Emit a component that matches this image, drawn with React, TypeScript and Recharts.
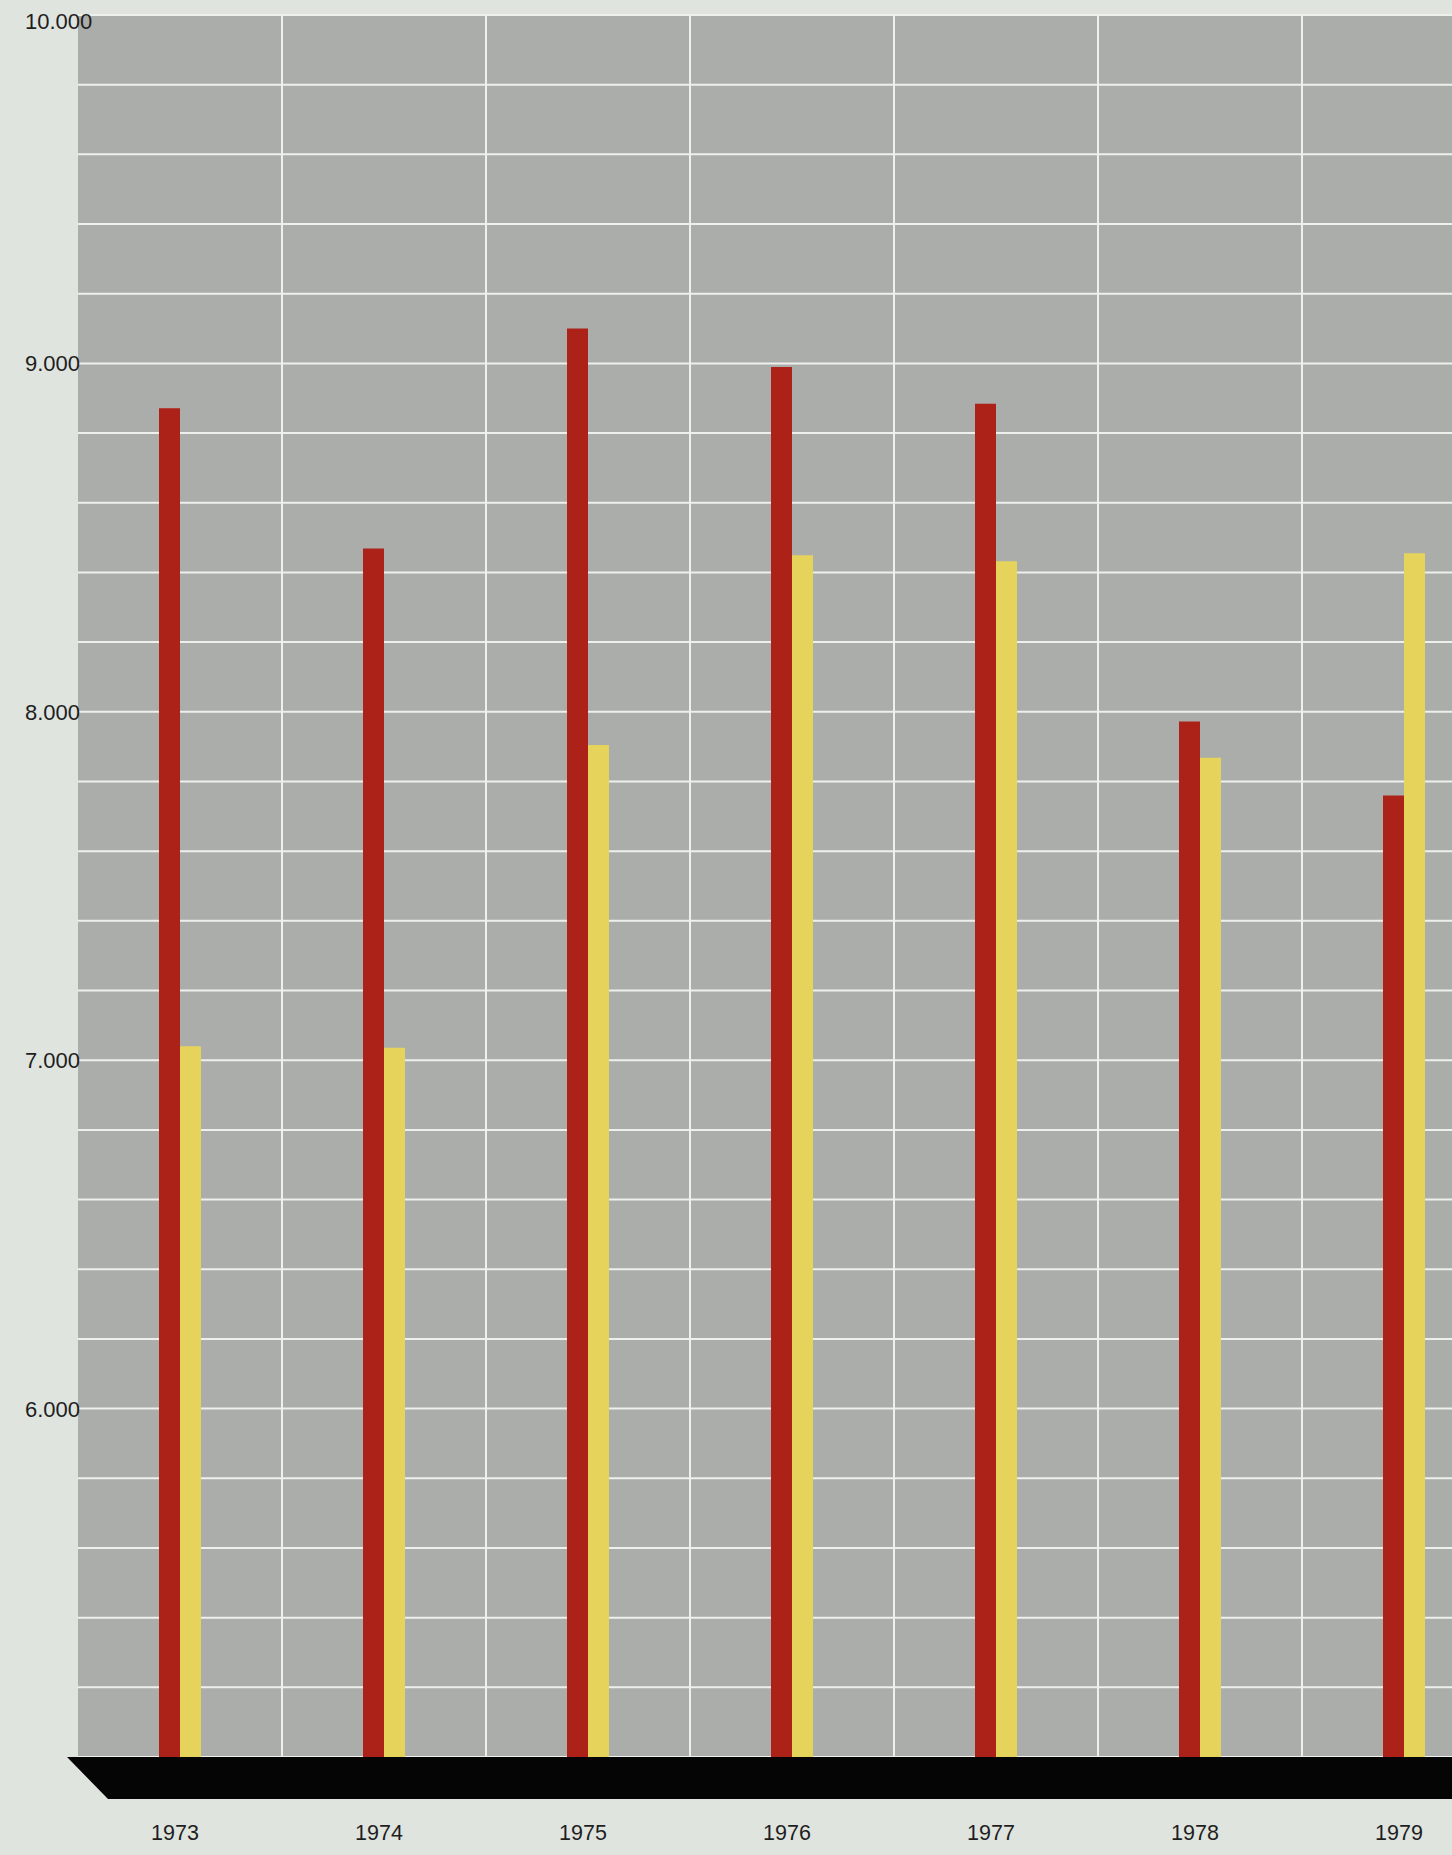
import React from 'react';
import * as R from 'recharts';
import { BarChart, Bar, XAxis, YAxis, CartesianGrid } from 'recharts';

const years = ['1973', '1974', '1975', '1976', '1977', '1978', '1979'];
const redSeries = [8871, 8469, 9100, 8990, 8884, 7972, 7760];
const yellowSeries = [7040, 7036, 7905, 8449, 8432, 7868, 8455];
const yTicks = [5000, 5200, 5400, 5600, 5800, 6000, 6200, 6400, 6600, 6800, 7000, 7200, 7400, 7600, 7800, 8000, 8200, 8400, 8600, 8800, 9000, 9200, 9400, 9600, 9800, 10000];
const yLabelValues = [6000, 7000, 8000, 9000, 10000];

const data = years.map((y, i) => ({ year: y, red: redSeries[i], yellow: yellowSeries[i] }));

const PAGE_BG = '#dfe4de';
const PLOT_BG = '#aaadaa';
const GRID = '#eef0ec';
const RED = '#ac2218';
const YELLOW = '#e6d35c';
const FONT = 'Arial, "Liberation Sans", Helvetica, sans-serif';

const fmt = (v: number) => {
  const s = String(v);
  return s.replace(/\B(?=(\d{3})+(?!\d))/g, '.');
};

const YTick = (props: any) => {
  const { y, payload } = props;
  if (!yLabelValues.includes(payload.value)) return null;
  const extra = payload.value === 10000 ? 6 : 0;
  return (
    <text x={25} y={y + extra} dy={8} textAnchor="start" fontSize={22} fontFamily={FONT} fill="#1e1e1e">
      {fmt(payload.value)}
    </text>
  );
};

const XTick = (props: any) => {
  const { x, y, payload } = props;
  return (
    <text x={x - 5} y={y} dy={75} textAnchor="middle" fontSize={21.5} fontFamily={FONT} fill="#1e1e1e">
      {payload.value}
    </text>
  );
};

const BaseBand = () => {
  const hook = (R as any).usePlotArea || (R as any).useOffset;
  const plot = hook ? hook() : null;
  if (!plot) return null;
  const left = plot.x ?? plot.left;
  const top = (plot.y ?? plot.top) + (plot.height ?? 0);
  const right = left + (plot.width ?? 1500) + 20;
  const h = 42;
  const pts = `${left - 11},${top} ${right},${top} ${right},${top + h} ${left + 30},${top + h}`;
  return <polygon points={pts} fill="#050505" />;
};

export default function App() {
  return (
    <div
      style={{
        position: 'absolute',
        left: 0,
        top: 0,
        width: 1452,
        height: 1855,
        overflow: 'hidden',
        background: PAGE_BG,
      }}
    >
      <BarChart
        width={1506}
        height={1855}
        data={data}
        margin={{ top: 15, right: 0, bottom: 0, left: 0 }}
        barGap={0}
        barSize={21}
      >
        <CartesianGrid
          fill={PLOT_BG}
          fillOpacity={1}
          stroke={GRID}
          strokeWidth={2}
          verticalCoordinatesGenerator={(p: any) => {
            const off = p.offset || {};
            const n = years.length;
            const out: number[] = [];
            for (let i = 1; i < n; i++) out.push(off.left + (i * off.width) / n);
            return out;
          }}
        />
        <XAxis
          dataKey="year"
          axisLine={false}
          tickLine={false}
          height={98}
          tick={<XTick />}
          interval={0}
        />
        <YAxis
          domain={[5000, 10000]}
          ticks={yTicks}
          interval={0}
          axisLine={false}
          tickLine={false}
          width={78}
          tick={<YTick />}
        />
        <Bar dataKey="red" fill={RED} isAnimationActive={false} />
        <Bar dataKey="yellow" fill={YELLOW} isAnimationActive={false} />
        <BaseBand />
      </BarChart>
    </div>
  );
}
